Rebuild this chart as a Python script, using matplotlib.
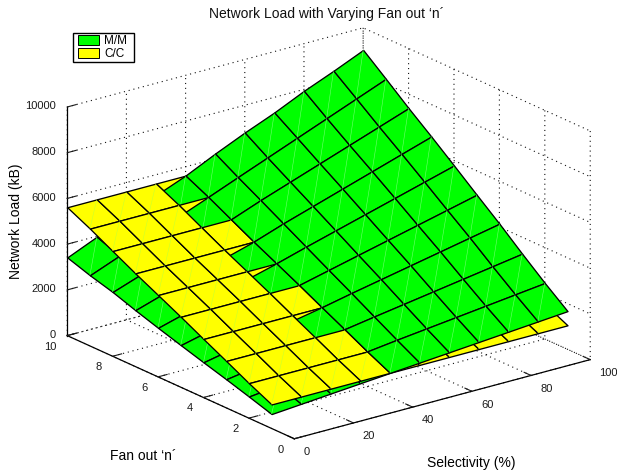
import types
import numpy as np
import matplotlib
matplotlib.use("Agg")
import matplotlib.pyplot as plt
from matplotlib.legend_handler import HandlerPatch
from matplotlib.patches import Patch, Rectangle
from matplotlib.text import Text
from matplotlib.transforms import IdentityTransform
from mpl_toolkits.mplot3d import proj3d
from mpl_toolkits.mplot3d.art3d import Poly3DCollection, Line3DCollection

plt.rcParams['font.family'] = ['Liberation Sans', 'DejaVu Sans']
plt.rcParams['font.size'] = 8

selectivity = [0, 10, 20, 30, 40, 50, 60, 70, 80, 90, 100]
fan_out = [1, 2, 3, 4, 5, 6, 7, 8, 9, 10]

mm_load = [
    [630, 734, 838, 942, 1046, 1150, 1254, 1358, 1462, 1566, 1670],
    [945, 1095, 1246, 1396, 1535, 1698, 1848, 1998, 2149, 2300, 2450],
    [1250, 1453, 1656, 1859, 2055, 2265, 2468, 2671, 2874, 3077, 3280],
    [1540, 1800, 2060, 2320, 2565, 2840, 3100, 3360, 3620, 3880, 4140],
    [1840, 2152, 2463, 2775, 3085, 3398, 3710, 4021, 4333, 4644, 4956],
    [2145, 2509, 2873, 3237, 3585, 3965, 4329, 4693, 5057, 5421, 5785],
    [2465, 2879, 3292, 3706, 4080, 4533, 4946, 5360, 5773, 6187, 6600],
    [2810, 3268, 3726, 4184, 4605, 5100, 5558, 6016, 6474, 6932, 7390],
    [3090, 3603, 4116, 4629, 5135, 5655, 6168, 6681, 7194, 7707, 8220],
    [3420, 3982, 4543, 5105, 5620, 6236, 6810, 7340, 7940, 8470, 9035],
]
cc_load = [1050, 1530, 2050, 2560, 3080, 3580, 4075, 4600, 5130, 5614]

title = 'Network Load with Varying Fan out \u2018n\u00b4'
GREEN, YELLOW = '#00ff00', '#ffff00'

fig = plt.figure(figsize=(6.17, 4.72), dpi=100)
ax = fig.add_subplot(projection='3d', computed_zorder=False)
ax.set_proj_type('ortho')
ax.view_init(elev=20.4, azim=-127.5)
ax.set_box_aspect((1, 1, 0.654))
ax.set_xlim(0, 100, view_margin=0)
ax.set_ylim(0, 10, view_margin=0)
ax.set_zlim(0, 10000, view_margin=0)
ax.set_xticks([0, 20, 40, 60, 80, 100])
ax.set_yticks([0, 2, 4, 6, 8, 10])
ax.set_zticks([0, 2000, 4000, 6000, 8000, 10000])

for axis in (ax.xaxis, ax.yaxis, ax.zaxis):
    axis.set_pane_color((1, 1, 1, 0))
    axis.pane.set_edgecolor('none')
    axis.line.set_color('k')
    axis.line.set_linewidth(0.9)
    axis._axinfo['grid'].update(color='#111111', linewidth=0.8, linestyle=(0, (1, 3.4)))
    axis._axinfo['tick'].update(inward_factor=0.0, outward_factor=0.38, linewidth={True: 0.8, False: 0.8})
    axis.set_rotate_label(False)
ax.grid(True)
ax.tick_params(axis='x', pad=0.5, colors='#1a1a1a')
ax.tick_params(axis='y', pad=-0.5, colors='#1a1a1a')
ax.tick_params(axis='z', pad=-3.4, colors='#1a1a1a')
for axis, ha, va in ((ax.xaxis, 'left', 'center'), (ax.yaxis, 'right', 'center'), (ax.zaxis, 'right', 'center')):
    for t in axis.get_ticklabels():
        t.set_ha(ha)
        t.set_va(va)

order = [0]


def cell(i, j, kind):
    xa, xb = selectivity[i], selectivity[i + 1]
    na, nb = fan_out[j], fan_out[j + 1]
    if kind == 'g':
        q = [mm_load[j][i], mm_load[j][i + 1], mm_load[j + 1][i + 1], mm_load[j + 1][i]]
        col, seam = GREEN, '#70ff70'
    else:
        q = [cc_load[j], cc_load[j], cc_load[j + 1], cc_load[j + 1]]
        col, seam = YELLOW, '#c8ff30'
    verts = [(xa, na, q[0]), (xb, na, q[1]), (xb, nb, q[2]), (xa, nb, q[3])]
    order[0] += 1
    p = Poly3DCollection([verts], facecolors=col, edgecolors='k', linewidths=0.95)
    p.set_zorder(order[0])
    ax.add_collection3d(p, autolim=False)
    order[0] += 1
    s = Line3DCollection([[verts[0], verts[2]]], colors=seam, linewidths=0.4)
    s.set_zorder(order[0])
    ax.add_collection3d(s, autolim=False)


# painter's order of the quads as they appear in the reference
for j in range(8, -1, -1):
    for i in range(0, 3):
        cell(i, j, 'g')
for j in range(8, -1, -1):
    for i in range(4, 10):
        cell(i, j, 'y')
seq = [(8, 'yg'), (7, 'yg'), (6, 'gy'), (5, 'yg'), (4, 'yg'), (3, 'gy'), (2, 'yg'), (1, 'gy'), (0, 'gy')]
for j, kinds in seq:
    for k in kinds:
        cell(3, j, k)
for j in range(8, -1, -1):
    for i in range(4, 10):
        cell(i, j, 'g')
for j in range(8, -1, -1):
    for i in range(0, 3):
        cell(i, j, 'y')

# fit the projected box onto the reference's pixel positions
W, H = 617, 472
target = np.array([[295, 439], [590, 360], [67, 335], [67, 107]], float)
target[:, 1] = H - target[:, 1]


def project():
    ax.apply_aspect()
    M = ax.get_proj()
    xs, ys, _ = proj3d.proj_transform(np.array([0, 100, 0, 0.]), np.array([0, 0, 10, 10.]),
                                      np.array([0, 0, 0, 10000.]), M)
    return ax.transData.transform(np.c_[xs, ys])


S = 450.0
cx, cy = W / 2, H / 2
for _ in range(4):
    ax.set_position([(cx - S / 2) / W, (cy - S / 2) / H, S / W, S / H])
    P = project()
    S *= (target[1, 0] - target[2, 0]) / (P[1, 0] - P[2, 0])
    ax.set_position([(cx - S / 2) / W, (cy - S / 2) / H, S / W, S / H])
    P = project()
    d = (target - P).mean(axis=0)
    cx += d[0]
    cy += d[1]
ax.set_position([(cx - S / 2) / W, (cy - S / 2) / H, S / W, S / H])


def swatch(legend, orig_handle, xdescent, ydescent, width, height, fontsize):
    inset = 2.2
    return Rectangle((inset - xdescent, -ydescent), width - inset, height)


handles = [Patch(facecolor=GREEN, edgecolor='k', linewidth=0.7, label='M/M'),
           Patch(facecolor=YELLOW, edgecolor='k', linewidth=0.7, label='C/C')]
leg = ax.legend(handles=handles, loc='upper left', bbox_to_anchor=(73 / W, 1 - 63 / H, 61 / W, 30 / H),
                bbox_transform=fig.transFigure, borderaxespad=0, fancybox=False, mode='expand',
                framealpha=1, edgecolor='k', handlelength=2.05, handleheight=0.95,
                handletextpad=0.42, borderpad=0.16, labelspacing=0.1, fontsize=8.5,
                handler_map={Patch: HandlerPatch(patch_func=swatch)})
leg.get_frame().set_linewidth(1.0)
leg.set_zorder(100000)

ax.set_xlabel('Selectivity (%)', labelpad=0, fontsize=10)
ax.set_ylabel('Fan out \u2018n\u00b4', labelpad=0, fontsize=10)
ax.set_zlabel('Network Load (kB)', labelpad=0, rotation=90, fontsize=10)


def pin(axis, tx, ty):
    """Keep a 3D axis label at the reference's pixel centre."""
    def draw(self, renderer):
        self._transform = IdentityTransform()
        self.set_position((tx, H - ty))
        self.set_ha('center')
        self.set_va('center')
        self.set_rotation_mode('anchor')
        Text.draw(self, renderer)
    axis.label.draw = types.MethodType(draw, axis.label)


pin(ax.xaxis, 471.5, 463)
pin(ax.yaxis, 143, 456)
pin(ax.zaxis, 16, 221)

fig.text(326.5 / W, 1 - 14 / H, title, ha='center', va='center', fontsize=10, color='#111111')
fig.savefig('out.png', dpi=100)
